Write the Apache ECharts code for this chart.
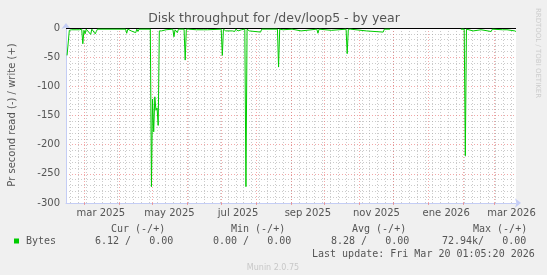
<!DOCTYPE html>
<html><head><meta charset="utf-8">
<script src="https://cdn.jsdelivr.net/npm/echarts@6/dist/echarts.min.js"></script>
<style>html,body{margin:0;padding:0;background:#f0f0f0;}#c{width:547px;height:275px;}</style>
</head><body><div id="c"></div>
<script>
const titleText = 'Disk throughput for /dev/loop5 - by year';
const yAxisTitle = 'Pr second read (-) / write (+)';
const lastUpdateTime = '2026-03-20T01:05:20Z';
const rangeDays = 400;

const readDates = [
 '2025-02-14','2025-02-16','2025-02-17','2025-02-18','2025-02-19','2025-02-22','2025-02-23','2025-02-25','2025-02-27','2025-02-28',
 '2025-03-01','2025-03-02','2025-03-03','2025-03-07','2025-03-08','2025-03-11','2025-03-12','2025-03-13',
 '2025-04-07','2025-04-08','2025-04-09','2025-04-12','2025-04-13','2025-04-16','2025-04-17','2025-04-18','2025-04-19','2025-04-29','2025-04-30',
 '2025-05-01','2025-05-02','2025-05-03','2025-05-04','2025-05-05','2025-05-06','2025-05-07','2025-05-08','2025-05-09','2025-05-10','2025-05-13',
 '2025-05-19','2025-05-20','2025-05-21','2025-05-23','2025-05-24','2025-05-29','2025-05-30','2025-05-31',
 '2025-06-01','2025-06-02','2025-06-09','2025-06-15','2025-06-19',
 '2025-07-01','2025-07-02','2025-07-03','2025-07-05','2025-07-06','2025-07-11','2025-07-12','2025-07-13','2025-07-14','2025-07-16','2025-07-17','2025-07-19','2025-07-22','2025-07-23','2025-07-24','2025-07-26','2025-07-27',
 '2025-08-05','2025-08-06','2025-08-20','2025-08-21','2025-08-22','2025-08-25',
 '2025-09-02','2025-09-10','2025-09-11','2025-09-24','2025-09-25','2025-09-26',
 '2025-10-07','2025-10-08','2025-10-20','2025-10-21','2025-10-22','2025-10-23','2025-10-24',
 '2025-11-07','2025-11-08','2025-11-22','2025-11-23','2025-11-28','2025-11-29',
 '2026-01-30','2026-02-02','2026-02-03','2026-02-04','2026-02-10','2026-02-11','2026-02-17','2026-02-26','2026-02-27',
 '2026-03-08','2026-03-12','2026-03-13','2026-03-19','2026-03-20'
];
const readValues = [
 -47,-4,-2,-3,-2,-3,-2,-3,-2,-27,
 -4,-10,-2,-11,-2,-10,-6,-2,
 -2,-9,-2,-5,-2,-8,-2,-6,-2,-2,-272,
 -122,-178,-118,-141,-137,-167,-5,-2,-5,-2,-3,
 -2,-15,-3,-8,-2,-2,-55,-2,
 -5,-2,-3,-3,-3,
 -2,-47,-2,-5,-2,-5,-2,-6,-2,-5,-2,-3,-2,-272,-2,-5,-2,
 -7,-2,-2,-67,-2,-3,
 -2,-5,-2,-2,-9,-2,
 -4,-2,-2,-44,-2,-5,-2,
 -5,-2,-7,-2,-2,null,
 -2,-2,-219,-2,-5,-2,-3,-6,-2,
 -3,-3,-2,-5,-6
];

const xLabelDates = ['2025-03-16','2025-05-16','2025-07-16','2025-09-16','2025-11-16','2026-01-17','2026-03-16'];
const xLabelNames = ['mar 2025','may 2025','jul 2025','sep 2025','nov 2025','ene 2026','mar 2026'];

const legendHeaders = ['Cur (-/+)','Min (-/+)','Avg (-/+)','Max (-/+)'];
const legendValues = ['6.12 /   0.00','0.00 /   0.00','8.28 /   0.00','72.94k/   0.00'];
const seriesName = 'Bytes';
const lastUpdateText = 'Last update: Fri Mar 20 01:05:20 2026';
const versionText = 'Munin 2.0.75';
const sideText = 'RRDTOOL / TOBI OETIKER';

const T1 = Date.parse(lastUpdateTime);
const DAY = 86400000;
const T0 = T1 - rangeDays * DAY;

// grid positions derived from the axis range
const monthStarts = [];
{
  const d0 = new Date(T0);
  let y = d0.getUTCFullYear(), m = d0.getUTCMonth() + 1;
  while (true) {
    const t = Date.UTC(y, m, 1);
    if (t > T1) break;
    monthStarts.push(t);
    m++; if (m > 11) { m = 0; y++; }
  }
}
const weekStarts = [];
{
  let t = Date.UTC(2025, 1, 17); // a Monday
  while (t - 7 * DAY > T0) t -= 7 * DAY;
  for (; t <= T1; t += 7 * DAY) if (t >= T0) weekStarts.push(t);
}
const labelTimes = xLabelDates.map(d => Date.parse(d + 'T00:00:00Z'));
const seriesData = readDates.map((d, i) => [Date.parse(d + 'T00:00:00Z'), readValues[i]]);

const GREEN = '#00cc00';
const AXIS = '#c4cdf5';
const MGRID = 'rgba(235,110,110,0.6)';
const GRID = 'rgba(160,160,160,0.55)';
const FONT = '#555';

const chart = echarts.init(document.getElementById('c'), null, {renderer: 'canvas'});
const mono = '"DejaVu Sans Mono", monospace';
const sans = '"DejaVu Sans", sans-serif';

const g = [];
g.push({type:'text', x:274, y:19, style:{text:titleText, font:'12.5px ' + sans, fill:FONT, align:'center', verticalAlign:'middle'}});
g.push({type:'text', x:12, y:115, rotation:Math.PI/2, style:{text:yAxisTitle, font:'10px ' + sans, fill:FONT, align:'center', verticalAlign:'middle'}});
g.push({type:'text', x:538, y:53, rotation:-Math.PI/2, style:{text:sideText, font:'7px ' + sans, fill:'#cccccc', align:'center', verticalAlign:'middle'}});
const headerX = [111, 231, 352, 473];
legendHeaders.forEach((t, i) => g.push({type:'text', x:headerX[i], y:229.5, style:{text:t, font:'10px ' + mono, fill:FONT, verticalAlign:'middle'}}));
g.push({type:'rect', shape:{x:14, y:238.5, width:5, height:5}, style:{fill:GREEN}});
g.push({type:'text', x:26, y:241.5, style:{text:seriesName, font:'10px ' + mono, fill:FONT, verticalAlign:'middle'}});
const valX = [95, 213, 331, 442];
legendValues.forEach((t, i) => g.push({type:'text', x:valX[i], y:241.5, style:{text:t, font:'10px ' + mono, fill:FONT, verticalAlign:'middle'}}));
g.push({type:'text', x:312, y:254.5, style:{text:lastUpdateText, font:'10px ' + mono, fill:FONT, verticalAlign:'middle'}});
g.push({type:'text', x:273, y:267.5, style:{text:versionText, font:'8px ' + sans, fill:'#c8c8c8', align:'center', verticalAlign:'middle'}});

chart.setOption({
  animation: false,
  backgroundColor: '#f0f0f0',
  grid: {left:66, right:31, top:28, bottom:72, show:true, backgroundColor:'#ffffff', borderWidth:0},
  xAxis: [
    {
      type:'value', min:T0, max:T1, z:3,
      axisLine:{show:true, onZero:false, lineStyle:{color:AXIS, width:1}, symbol:['none','arrow'], symbolSize:[7,6], symbolOffset:[0,5]},
      axisTick:{show:true, customValues:monthStarts, length:2, lineStyle:{color:MGRID}},
      axisLabel:{show:true, customValues:labelTimes, color:FONT, fontSize:10, fontFamily:sans, margin:5,
        formatter: v => { const i = labelTimes.indexOf(v); return i >= 0 ? xLabelNames[i] : ''; }},
      splitLine:{show:true, lineStyle:{color:MGRID, width:1, type:[1,2]}}
    },
    {
      type:'value', min:T0, max:T1, z:1,
      axisLine:{show:false}, axisLabel:{show:false},
      axisTick:{show:false, customValues:weekStarts},
      splitLine:{show:true, lineStyle:{color:GRID, width:1, type:[1,2]}}
    }
  ],
  yAxis: {
    type:'value', min:-300, max:0, interval:50, z:3,
    axisLine:{show:true, onZero:false, lineStyle:{color:AXIS, width:1}, symbol:['none','arrow'], symbolSize:[7,6], symbolOffset:[0,5]},
    axisTick:{show:false},
    axisLabel:{color:FONT, fontSize:10, fontFamily:sans, margin:6},
    splitLine:{show:true, lineStyle:{color:MGRID, width:1, type:[1,2]}},
    minorTick:{show:false, splitNumber:5},
    minorSplitLine:{show:true, lineStyle:{color:GRID, width:1, type:[1,2]}}
  },
  series: [{
    type:'line', name:seriesName, xAxisIndex:0, data:seriesData, showSymbol:false, connectNulls:false, z:5,
    lineStyle:{color:GREEN, width:1}, itemStyle:{color:GREEN},
    markLine:{silent:true, symbol:'none', data:[{yAxis:0}], label:{show:false}, lineStyle:{color:'#000', width:1, type:'solid'}}
  }],
  graphic: g
});
</script></body></html>
